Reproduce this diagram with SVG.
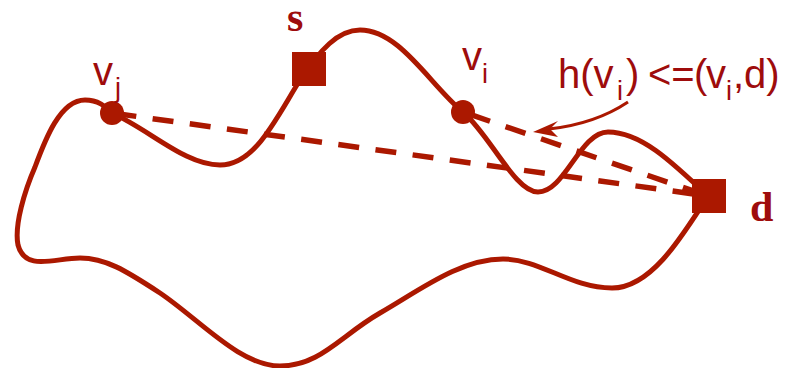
<svg xmlns="http://www.w3.org/2000/svg" width="788" height="368" viewBox="0 0 788 368">
  <style>
    .route { fill: none; stroke: #ab1800; stroke-width: 5; stroke-linecap: round; stroke-linejoin: round; }
    .dash { fill: none; stroke: #ab1800; stroke-width: 5.5; stroke-dasharray: 21 16.5; }
    .node { fill: #ab1800; }
    .lbl { font-family: "Liberation Sans", Arial, sans-serif; font-size: 40px; fill: #9e0c0c; }
    .sub { font-size: 27px; }
    .end { font-family: "Liberation Serif", "Times New Roman", serif; font-weight: bold; font-size: 42px; fill: #9e0c0c; }
  </style>

  <!-- closed route through s, v_i, d and v_j -->
  <g id="connectors">
    <path class="route" d="M112,113
      C150,130 185,165 220,165
      C255,165 275,120 300,80
      C320,50 338,30 360,30
      C400,30 430,85 463,112
      C490,135 515,192 538,192
      C565,192 580,132 608,132
      C640,132 670,160 708,196
      C680,240 650,288 612,288
      C570,288 540,259 503,259
      C460,259 420,290 380,313
      C340,336 320,366 280,366
      C240,366 200,320 160,293
      C125,270 105,258 80,258
      C55,258 25,272 18,245
      C14,225 25,190 35,167
      C45,140 60,100 85,100
      C98,100 105,106 112,113 Z"/>
    <!-- heuristic estimates toward d -->
    <line class="dash" x1="112" y1="113" x2="708" y2="196" stroke-dashoffset="34"/>
    <line class="dash" x1="463" y1="112" x2="708" y2="196" stroke-dashoffset="30"/>
    <!-- pointer from the formula to the estimate -->
    <path d="M628,102 Q595,124 549,129" fill="none" stroke="#ab1800" stroke-width="3"/>
    <polygon points="533,132 558,121 550,129 558,137" fill="#ab1800"/>
  </g>

  <g id="node-s">
    <rect class="node" x="292" y="52" width="34" height="34"/>
    <text class="end" x="287" y="31">s</text>
  </g>

  <g id="node-d">
    <rect class="node" x="692" y="179" width="34" height="34"/>
    <text class="end" x="750" y="221">d</text>
  </g>

  <g id="node-vj">
    <circle class="node" cx="112" cy="113" r="12"/>
    <text class="lbl" x="93" y="85">v<tspan class="sub" dx="2" dy="12">j</tspan></text>
  </g>

  <g id="node-vi">
    <circle class="node" cx="463" cy="112" r="12"/>
    <text class="lbl" x="462" y="70">v<tspan class="sub" dy="13">i</tspan></text>
  </g>

  <g id="label-h">
    <text class="lbl" y="88"><tspan x="558">h(v</tspan><tspan class="sub" x="617" y="100">i</tspan><tspan x="626" y="88">)</tspan><tspan x="648">&lt;=</tspan><tspan x="694">(</tspan><tspan x="706">v</tspan><tspan class="sub" x="726" y="100">i</tspan><tspan x="733" y="88">,d)</tspan></text>
  </g>
</svg>
